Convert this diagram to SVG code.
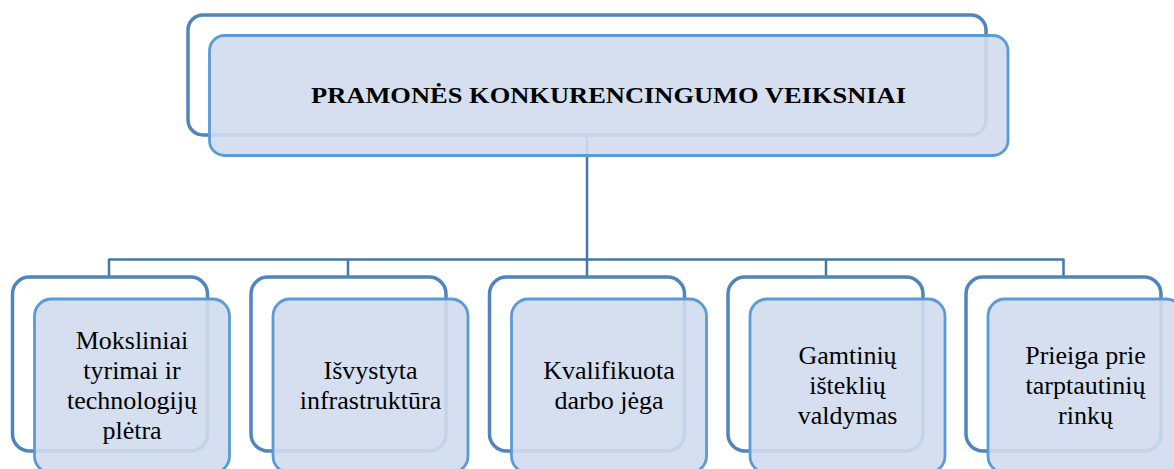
<svg xmlns="http://www.w3.org/2000/svg" width="1174" height="469" viewBox="0 0 1174 469">
<style>
.back{fill:#ffffff;stroke:#4f84bd;stroke-width:3.5}
.front{fill:rgb(208,220,237);fill-opacity:0.9;stroke:#5b9bd5;stroke-width:2.8}
.conn{fill:none;stroke:#4677a9;stroke-width:2.5}
.lbl{font-size:26px;fill:#000;text-anchor:middle}
.title{font-size:23px;font-weight:bold;fill:#000;text-anchor:middle}
</style>
<rect width="1174" height="469" fill="#ffffff"/>
<g id="connectors">
<path class="conn" d="M587,135 V259.5 M109,259.5 H1063.5 M109,258.5 V277 M348,259.5 V277 M587,259.5 V277 M826,259.5 V277 M1063.5,258.5 V277"/>
</g>
<g id="node-top" font-family="Liberation Serif, DejaVu Serif, serif">
<rect class="back" x="188" y="15" width="798" height="120" rx="15"/>
<rect class="front" x="209.5" y="35.5" width="798.5" height="120" rx="15"/>
<text class="title" x="608.5" y="103" textLength="595" lengthAdjust="spacingAndGlyphs">PRAMONĖS KONKURENCINGUMO VEIKSNIAI</text>
</g>
<g id="node-1" font-family="Liberation Serif, DejaVu Serif, serif">
<rect class="back" x="12.5" y="277" width="195" height="174" rx="17"/>
<rect class="front" x="34.5" y="299" width="195" height="174" rx="17"/>
<text class="lbl" x="132" y="349">Moksliniai</text>
<text class="lbl" x="132" y="379">tyrimai ir</text>
<text class="lbl" x="132" y="409">technologijų</text>
<text class="lbl" x="132" y="439">plėtra</text>
</g>
<g id="node-2" font-family="Liberation Serif, DejaVu Serif, serif">
<rect class="back" x="251" y="277" width="195" height="174" rx="17"/>
<rect class="front" x="273" y="299" width="195" height="174" rx="17"/>
<text class="lbl" x="370.5" y="379">Išvystyta</text>
<text class="lbl" x="370.5" y="409">infrastruktūra</text>
</g>
<g id="node-3" font-family="Liberation Serif, DejaVu Serif, serif">
<rect class="back" x="489.5" y="277" width="195" height="174" rx="17"/>
<rect class="front" x="511.5" y="299" width="195" height="174" rx="17"/>
<text class="lbl" x="609" y="379">Kvalifikuota</text>
<text class="lbl" x="609" y="409">darbo jėga</text>
</g>
<g id="node-4" font-family="Liberation Serif, DejaVu Serif, serif">
<rect class="back" x="728" y="277" width="195" height="174" rx="17"/>
<rect class="front" x="750" y="299" width="195" height="174" rx="17"/>
<text class="lbl" x="847.5" y="364">Gamtinių</text>
<text class="lbl" x="847.5" y="394">išteklių</text>
<text class="lbl" x="847.5" y="424">valdymas</text>
</g>
<g id="node-5" font-family="Liberation Serif, DejaVu Serif, serif">
<rect class="back" x="966" y="277" width="195" height="174" rx="17"/>
<rect class="front" x="988" y="299" width="195" height="174" rx="17"/>
<text class="lbl" x="1085.5" y="364">Prieiga prie</text>
<text class="lbl" x="1085.5" y="394">tarptautinių</text>
<text class="lbl" x="1085.5" y="424">rinkų</text>
</g>
</svg>
